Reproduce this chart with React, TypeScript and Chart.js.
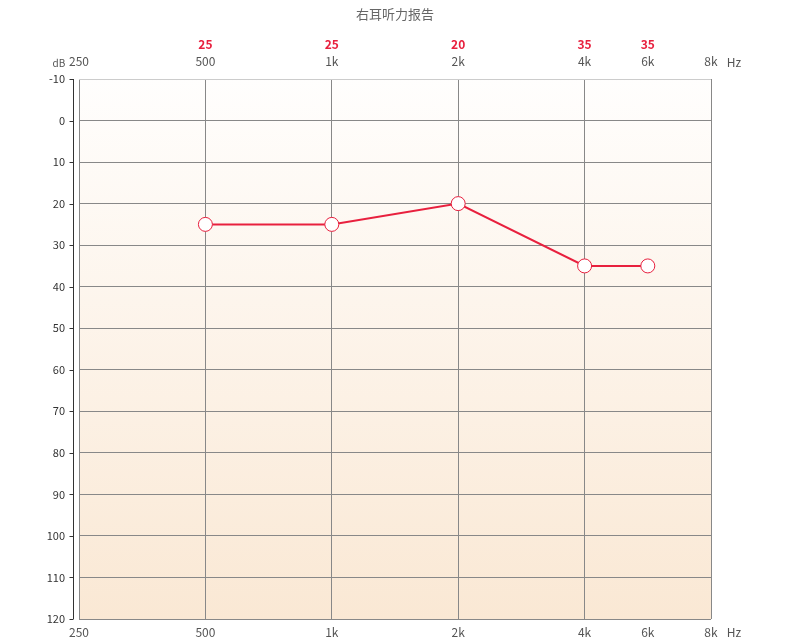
import React, { useEffect, useRef } from "react";
import { Chart, registerables } from "chart.js";

Chart.register(...registerables);

const TITLE = "右耳听力报告";
const FREQ_LABELS = ["250", "500", "1k", "2k", "4k", "6k", "8k"];
const FREQ_POS = [0, 1, 2, 3, 4, 4.5, 5];
const POINT_FREQS = ["500", "1k", "2k", "4k", "6k"];
const POINT_DB = [25, 25, 20, 35, 35];
const DB_MIN = -10;
const DB_MAX = 120;
const DB_STEP = 10;

const RED = "#e8203e";
const TEXT = "#555";
const FONT = "'Noto Sans CJK SC', 'Noto Sans', sans-serif";

const labelFor = (v: number) => {
  const i = FREQ_POS.indexOf(v);
  return i >= 0 ? FREQ_LABELS[i] : "";
};

const setFreqTicks = (scale: any) => {
  scale.ticks = FREQ_POS.map((v) => ({ value: v }));
};

const decorPlugin = {
  id: "decor",
  beforeDraw(chart: any) {
    const { ctx, chartArea } = chart;
    const g = ctx.createLinearGradient(0, chartArea.top, 0, chartArea.bottom);
    g.addColorStop(0, "#fffefd");
    g.addColorStop(1, "#fae8d4");
    ctx.save();
    ctx.fillStyle = g;
    ctx.fillRect(chartArea.left, chartArea.top, chartArea.right - chartArea.left, chartArea.bottom - chartArea.top);
    ctx.restore();
  },
  afterDraw(chart: any) {
    const { ctx, chartArea, scales } = chart;
    const x = scales.x;
    const y = scales.y;
    ctx.save();
    // title
    ctx.fillStyle = "#666";
    ctx.font = `13px ${FONT}`;
    ctx.textAlign = "center";
    ctx.textBaseline = "middle";
    ctx.fillText(TITLE, 395, 14);
    // red values
    ctx.fillStyle = RED;
    ctx.font = `bold 12px ${FONT}`;
    POINT_FREQS.forEach((f, i) => {
      const pos = FREQ_POS[FREQ_LABELS.indexOf(f)];
      ctx.fillText(String(POINT_DB[i]), x.getPixelForValue(pos), 44);
    });
    // units
    ctx.fillStyle = TEXT;
    ctx.font = `10px ${FONT}`;
    ctx.fillText("dB", 59, 63);
    ctx.font = `12px ${FONT}`;
    ctx.fillText("Hz", 734, 62);
    ctx.fillText("Hz", 734, 632);
    // y axis line
    const ax = chartArea.left - 6 + 0.5;
    ctx.strokeStyle = "#333";
    ctx.lineWidth = 1;
    ctx.beginPath();
    ctx.moveTo(ax, chartArea.top);
    ctx.lineTo(ax, chartArea.bottom);
    for (let v = DB_MIN; v <= DB_MAX; v += DB_STEP) {
      const py = Math.round(y.getPixelForValue(v)) + 0.5;
      ctx.moveTo(ax - 4, py);
      ctx.lineTo(ax, py);
    }
    ctx.stroke();
    ctx.restore();
  },
};

export default function App() {
  const ref = useRef<HTMLCanvasElement | null>(null);
  useEffect(() => {
    if (!ref.current) return;
    const data = POINT_FREQS.map((f, i) => ({ x: FREQ_POS[FREQ_LABELS.indexOf(f)], y: POINT_DB[i] }));
    const chart = new Chart(ref.current, {
      type: "line",
      data: {
        datasets: [
          {
            data,
            borderColor: RED,
            borderWidth: 2,
            pointRadius: 7,
            pointHoverRadius: 7,
            pointBackgroundColor: "#fff",
            pointBorderColor: RED,
            pointBorderWidth: 1,
            tension: 0,
          },
        ],
      },
      options: {
        animation: false,
        responsive: false,
        devicePixelRatio: 1,
        layout: { padding: { left: 0, right: 79, top: 0, bottom: 0 } },
        plugins: { legend: { display: false }, tooltip: { enabled: false }, title: { display: false } },
        scales: {
          x: {
            type: "linear",
            position: "bottom",
            min: 0,
            max: 5,
            afterBuildTicks: setFreqTicks,
            afterFit: (s: any) => {
              s.height = 21;
            },
            border: { display: false },
            grid: {
              drawTicks: false,
              color: (c: any) => (c.tick && c.tick.value === 4.5 ? "rgba(0,0,0,0)" : "#888"),
            },
            ticks: {
              autoSkip: false,
              maxRotation: 0,
              padding: 6,
              color: TEXT,
              font: { size: 12, family: FONT },
              callback: (v: any) => labelFor(Number(v)),
            },
          },
          x2: {
            type: "linear",
            position: "top",
            min: 0,
            max: 5,
            afterBuildTicks: setFreqTicks,
            afterFit: (s: any) => {
              s.height = 79;
            },
            border: { display: false },
            grid: { display: false, drawTicks: false },
            ticks: {
              autoSkip: false,
              maxRotation: 0,
              padding: 10,
              color: TEXT,
              font: { size: 12, family: FONT },
              callback: (v: any) => labelFor(Number(v)),
            },
          },
          y: {
            type: "linear",
            reverse: true,
            min: DB_MIN,
            max: DB_MAX,
            afterFit: (s: any) => {
              s.width = 79;
            },
            border: { display: false },
            grid: {
              drawTicks: false,
              color: (c: any) => (c.tick && c.tick.value === DB_MIN ? "#ccc" : "#888"),
            },
            ticks: {
              stepSize: DB_STEP,
              padding: 14,
              color: "#333",
              font: { size: 11, family: FONT },
            },
          },
        },
      },
      plugins: [decorPlugin],
    });
    return () => chart.destroy();
  }, []);
  return (
    <div style={{ position: "absolute", left: 0, top: 0, width: 790, height: 640, background: "#fff" }}>
      <canvas ref={ref} width={790} height={640} style={{ width: 790, height: 640, display: "block" }} />
    </div>
  );
}
